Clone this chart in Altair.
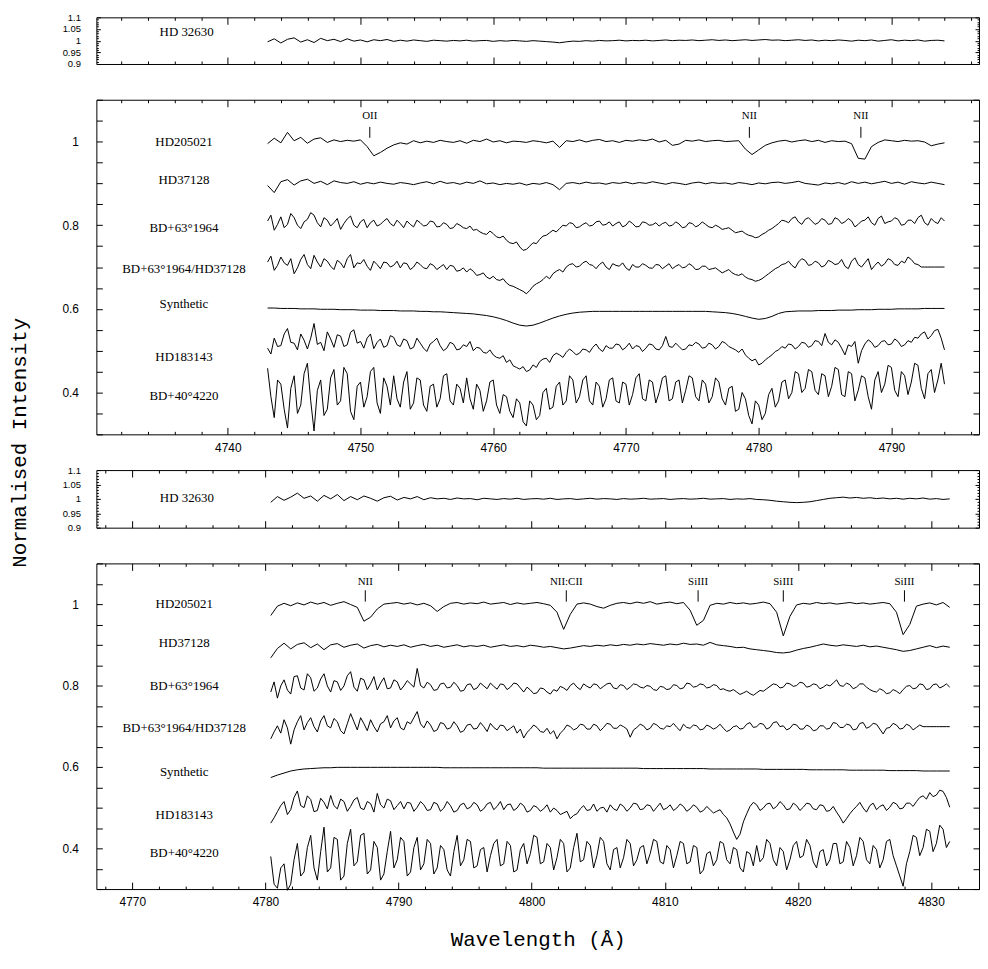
import altair as alt
import pandas as pd

# ---------------- data ----------------
START_UPPER = 4743.0   # wavelength of first sample, upper pair of panels
START_LOWER = 4780.4   # wavelength of first sample, lower pair of panels
# sampling step (Angstrom) of each spectrum, in NAMES order
STEPS = [0.5, 0.5, 0.25, 0.25, 0.5, 0.25, 0.25]

NAMES = ["HD205021", "HD37128", "BD+63°1964", "BD+63°1964/HD37128",
         "Synthetic", "HD183143", "BD+40°4220"]
OFFSETS_UPPER = [1.0, 0.9, 0.8, 0.7, 0.6, 0.5, 0.4]
OFFSETS_LOWER = [1.0, 0.896, 0.794, 0.691, 0.588, 0.485, 0.382]

# flux deviations from the offset, in units of 0.001
U_HD205021 = [-5, 8, -3, 22, 2, 10, -4, 6, 9, -2,
              4, 0, 3, 1, 4, -12, -34, -26, -16, -8,
              -3, -6, 2, -3, 1, -2, 3, 0, -2, 2,
              -4, 3, 0, 6, -1, 2, -3, 1, 0, -2,
              2, 0, -3, 1, -14, 2, 0, 4, -1, 3,
              5, 0, 2, -2, 3, 1, 4, 2, 6, -1,
              3, -9, -6, 3, 1, 4, 0, 2, 3, 0,
              1, 2, -18, -31, -20, -9, -3, 1, 3, -1,
              2, 4, 0, 3, -2, 2, 0, 1, -5, -40,
              -42, -12, -2, 4, 2, 0, 3, 1, 2, -1,
              -10, -6, -3]
U_HD37128 = [-5, -22, 4, 9, -4, 6, 10, 0, 5, -3,
             6, 2, 0, 4, -2, 2, -1, 3, 0, -2,
             2, 0, -3, 1, 4, -1, 5, 0, 2, -2,
             3, 0, 6, -1, 1, -3, 0, -2, 1, -4,
             0, -2, 2, -3, -15, 0, 2, -1, 3, 0,
             1, -2, 2, 0, 3, -1, 2, 0, 4, 1,
             -2, 2, 0, -3, 1, 3, -1, 2, 0, 1,
             -2, 2, 0, -3, 1, -1, 2, 3, 0, 2,
             5, 0, -2, -4, 1, -1, 2, -2, 4, 0,
             3, -1, 2, 5, 0, 3, -2, 4, 1, -1,
             3, 0, -3]
U_BD63 = [10, 24, -12, 2, 20, -6, 2, 28, 18, 0, -8, 8, 14, 30, 24, 6, -4, 18, 12, -2,
          6, 16, -10, 4, 15, 22, 0, -6, 8, 14, -6, 6, 12, -2, 2, 10, 16, 4, -2, 12,
          4, -6, 10, 2, -4, 12, 6, -2, 0, 10, 8, -4, -3, 6, 2, -8, -6, 4, 0, -6,
          -8, -2, -12, -10, -16, -20, -22, -14, -20, -28, -30, -26, -36, -42, -44, -40, -52, -60, -58, -50,
          -42, -44, -34, -26, -24, -18, -12, -16, -8, 0, -2, 6, 4, -6, -4, 2, 6, -2, 0, 8,
          10, 0, 2, 8, -2, 4, 8, -4, 0, 10, 4, -4, -3, 8, 6, 0, 1, 6, -2, 4,
          7, -2, 0, 8, 3, -6, -4, 6, 4, -4, 0, 8, 2, -4, -6, 0, -4, -10, -8, -6,
          -12, -18, -16, -14, -20, -24, -26, -30, -28, -22, -18, -12, -8, -2, 4, 12, 10, 6, 16, 20,
          8, 2, 14, 18, 10, 2, 6, 16, 12, 2, 4, 18, 14, 4, 8, 16, 10, -4, 2, 10,
          12, 20, 6, 0, 16, 22, 4, 8, 10, 18, 14, 0, 2, 12, 12, 4, 18, 24, 6, 0,
          16, 8, 4, 18, 10]
U_RATIO = [12, 26, -8, 4, 24, 10, 4, 20, -16, -2, 18, 30, 6, -4, 28, 12, 0, 20, 14, 2,
           -6, 16, 10, -2, 20, 30, -2, 10, 8, 18, 2, -8, 14, 6, -4, 12, 10, 0, 4, 14,
           -2, 10, 8, -6, 0, 12, 6, -2, -4, 8, 4, -6, 0, 6, -6, 4, 2, -10, -8, -2,
           -12, -4, -10, -20, -18, -14, -24, -28, -22, -30, -32, -28, -38, -44, -46, -50, -54, -58, -64, -56,
           -46, -40, -36, -30, -22, -28, -16, -10, -6, -12, 0, 6, 8, 0, 2, 10, 14, 6, 4, -4,
           6, 12, 0, -6, 8, 4, 2, 10, -2, -8, 6, 0, 0, 8, 4, -2, -3, 6, 5, -4,
           2, 8, -4, 2, 6, -2, 0, 8, 3, -6, -5, 2, 2, -6, -4, -2, -8, -14, -10, -6,
           -14, -18, -20, -16, -24, -28, -30, -34, -32, -28, -22, -16, -10, -4, 0, 6, 8, 14, 4, -2,
           12, 20, 16, 4, 6, 14, 10, 0, 4, 16, 12, 6, 8, 18, 2, -4, 14, 22, 6, 0,
           10, 20, -6, 4, 12, 2, 8, 20, 16, 6, 4, 14, 10, 24, 18, 8, 6, 0, 0, 0,
           0, 0, 0, 0, 0]
U_SYN = [2, 2, 1, 1, 1, 0, 0, 0, -1, -1,
         -1, -2, -2, -2, -3, -3, -3, -4, -4, -4,
         -5, -5, -5, -6, -6, -7, -7, -8, -9, -10,
         -11, -12, -14, -16, -19, -23, -28, -34, -39, -41,
         -39, -34, -28, -22, -17, -13, -10, -8, -7, -6,
         -6, -6, -6, -6, -6, -6, -6, -6, -6, -6,
         -6, -6, -6, -6, -6, -6, -6, -7, -8, -9,
         -11, -14, -18, -22, -25, -23, -18, -11, -7, -6,
         -5, -5, -5, -4, -4, -4, -3, -3, -3, -2,
         -2, -2, -1, -1, -1, 0, 0, 0, 0, 1,
         1, 1, 1]
U_HD183143 = [6, -8, 30, 10, 12, 40, 53, 20, 18, 2, 40, 25, 4, 30, 65, 15, 20, 0, 45, 28,
              8, 38, 35, 10, 14, 44, 50, 18, 22, 6, 30, 40, 5, 20, 28, 8, 12, 36, 32, 14,
              10, 28, 24, 4, 8, 30, 18, 6, -2, 16, 22, 30, 12, 0, 6, 20, 16, 2, 4, 14,
              10, 22, 0, 8, 6, -4, -6, 2, -10, -16, -18, -12, -28, -22, -36, -40, -44, -38, -50, -46,
              -34, -40, -26, -20, -18, -28, -12, -6, -10, -16, -4, 4, -2, -10, -6, 4, 2, -4, 8, 16,
              4, -2, 12, 6, 6, 16, 14, 2, 8, 18, 4, 12, 10, -2, 6, 16, 14, 4, 2, 12,
              34, 10, 8, 18, 10, 2, 4, 14, 12, 20, 16, 6, 8, 18, 14, 4, 10, 22, 18, 10,
              6, 2, -4, 4, -10, -18, -24, -20, -34, -30, -22, -16, -10, -2, 2, 10, 6, 16, 14, 4,
              10, 20, 18, 8, 12, 24, 22, 12, 41, 20, 14, 26, 20, 6, -10, 14, 10, 22, -30, 0,
              16, 26, 20, 8, 12, 22, 24, 14, 16, 28, 22, 10, 14, 24, 20, 32, 30, 40, 45, 28,
              36, 48, 51, 30, 2]
U_BD40 = [58, -10, -60, 30, 20, -40, -85, 10, 40, -50, -30, 45, 70, -20, -92, 5, 30, -55, -40, 35,
          55, -30, -20, 60, 45, -45, -65, 15, 25, -35, -10, 50, 60, -25, -50, 35, 15, -30, 40, -15,
          -35, 25, 50, -40, -25, 35, 30, -30, -45, 15, 20, -35, -15, 40, 45, -20, -30, 20, 10, -25,
          35, -15, -40, 20, 5, -45, -20, 25, 30, -30, -50, -5, -10, -45, -60, -15, -25, -70, -80, -20,
          -30, -65, -55, 0, 10, -40, -35, 15, 25, -30, -20, 40, 30, -25, -10, 30, 40, -20, -30, 25,
          15, -35, -15, 30, 35, -20, -25, 25, 20, -30, -5, 35, 45, -15, -20, 30, 25, -25, 0, 35,
          40, -20, -15, 25, 30, -25, 5, 40, 35, -10, -20, 30, 20, -25, -10, 35, 25, -15, -30, 10,
          15, -45, -40, 0, -15, -55, -75, -20, -30, -65, -50, -5, 10, -35, -20, 25, 30, -15, 0, 50,
          45, 0, 10, 55, 50, 5, -5, 45, 40, -10, 15, 60, 55, -5, -10, 50, 45, -20, 5, 40,
          35, -10, -40, 30, 50, 0, 20, 65, 60, 5, -10, 50, 40, -5, 25, 70, 65, 10, -15, 45,
          55, 0, 30, 70, 20]
U_HD32630 = [-5, 8, -10, 6, 12, -6, 4, -8, 10, 0,
             6, -4, 8, -2, 3, -5, 4, 0, 5, -3,
             2, -2, 3, 0, -3, 2, 0, -2, 1, -1,
             2, -2, 0, 1, -3, 0, -2, 1, -1, -3,
             0, -2, -4, -6, -9, -5, -2, -3, 0, -2,
             1, -1, 0, 2, -1, 1, 0, 2, -1, 1,
             3, 0, 2, 1, 3, 0, 2, 4, 1, 3,
             0, 2, 4, 1, 3, 5, 2, 3, 0, 2,
             4, 1, 3, -1, 2, 0, 3, 1, -2, 2,
             0, 3, -2, 1, 4, -1, 2, 0, 3, -2,
             1, 2, -1]

L_HD205021 = [-28, -5, 2, -4, 3, -2, 5, 0, 4, -3,
              2, 6, -1, -8, -42, -32, -12, 0, 2, 4,
              0, 3, -2, 2, -4, -18, -6, 2, 4, 0,
              3, 1, 5, 0, 2, 4, -1, 3, 0, 2,
              4, 1, -3, -20, -62, -25, 0, 3, 0, -6,
              -10, -3, 2, 4, 1, 5, 2, 6, 0, 3,
              5, 1, 4, -15, -52, -40, -3, 2, 0, 4,
              1, 3, 0, 2, 5, 1, -20, -78, -30, -2,
              2, 0, 4, 1, 3, 0, 2, 4, 1, 3,
              0, 2, 4, 1, -20, -75, -50, -5, 0, 3,
              -2, 4, -8]
L_HD37128 = [-28, -5, 8, -6, 5, 9, -3, 6, -8, 4,
             7, -2, 3, 6, -4, 2, 5, -1, 3, 0,
             4, -2, 2, 5, 0, 3, -2, 1, 4, -1,
             2, 0, 3, -2, 1, 4, 0, 2, -1, 3,
             1, -2, 0, -3, -6, -4, -1, 2, 0, 3,
             1, 4, 2, 5, 3, 6, 4, 7, 5, 3,
             6, 4, 8, 5, 6, 3, 10, 4, 2, 0,
             -3, -2, -6, -8, -10, -12, -15, -16, -14, -9,
             -5, -2, 2, 6, 3, 1, 4, 2, 0, 3,
             -1, 1, -2, -5, -8, -12, -10, -6, -2, 2,
             -3, 1, -2]
L_BD63 = [-10, 15, -25, 5, 20, -5, -15, 28, 30, 0, -5, 35, 25, -8, 0, 22, 35, 5, -10, 18,
          15, -6, 5, 30, 40, 2, -8, 24, 20, -4, 10, 28, -5, 12, 25, -2, 0, 20, 15, -5,
          5, 18, 10, 2, 48, 6, 0, 14, 8, -6, -4, 10, 12, 0, 2, 14, 6, -8, -6, 8,
          10, -4, 0, 12, 5, -2, 12, 4, -3, 10, 8, -4, 2, 12, 10, 0, -10, 2, -5, -14,
          -12, 0, -2, -10, -15, -4, -8, 4, 0, -6, 6, 12, 2, -4, 10, 4, 0, 10, 8, -2,
          4, 10, 12, 0, -2, 8, 6, -4, 2, 10, 8, 2, 0, 6, 4, -4, -6, 4, 2, -4,
          -2, 8, 6, -2, 0, 12, 10, 2, 4, 10, 8, 0, 2, 8, 6, -4, -2, -6, -8, -4,
          -10, -16, -12, -8, -14, -18, -12, -6, -8, -2, 4, 10, 8, 0, 2, 12, 10, 4, 6, 14,
          12, 2, 4, 10, 8, -2, 2, 8, 5, 12, 20, 6, 4, 12, 8, -2, 2, 10, 10, 2,
          -4, -8, -10, -2, -6, -14, -12, -4, -8, -14, -4, 4, 6, -2, 0, 10, 8, -4, -2, 8,
          10, 0, 4, 10, 2]
L_RATIO = [-22, -5, 10, -8, 25, 5, -35, 0, 20, 35, 0, 18, 30, 8, -5, 22, 35, 10, 5, 28,
           20, -2, -10, 15, 40, 20, 0, 30, 15, -2, 25, 8, -5, 15, 20, 35, 5, 22, 30, 5,
           0, 20, 15, 30, 45, 15, 5, 22, 12, -4, 0, 18, 15, 2, 5, 20, 10, -6, -2, 12,
           14, 2, 4, 18, 8, -4, 16, 6, 0, 12, 10, -2, 4, 10, -8, 2, -20, -6, 2, 12,
           6, -4, -6, 4, -10, -2, -22, -8, 0, 12, 8, 0, 4, 14, 12, 2, 2, 14, 10, -2,
           6, 16, 14, 4, 4, 12, 8, 2, -18, 0, 6, 14, 10, 0, 4, 16, 12, 4, 2, 10,
           8, 16, 6, -2, 14, 6, 4, 12, 10, 0, 2, 12, 8, 2, 6, 14, 4, -4, 0, 8,
           10, 2, 4, 14, 18, 6, 8, 16, 14, 2, 6, 18, 20, 8, 10, 0, 4, 14, 12, 2,
           2, 12, 8, -2, 0, 10, 10, 2, 4, 18, 16, 6, 6, 14, 12, 0, 2, 16, 18, 4,
           8, 16, 14, 2, -10, 4, 6, 16, 12, 2, 4, 14, 10, 0, 6, 12, 8, 8, 8, 8,
           8, 8, 8, 8, 8]
L_SYN = [-14, -8, -3, 2, 5, 7, 8, 9, 10, 10,
         11, 11, 11, 11, 11, 11, 11, 11, 11, 11,
         11, 11, 11, 11, 11, 11, 10, 10, 10, 10,
         10, 10, 10, 10, 10, 10, 10, 10, 10, 10,
         10, 9, 9, 9, 9, 9, 9, 9, 9, 9,
         9, 9, 9, 9, 9, 9, 8, 8, 8, 8,
         8, 8, 8, 8, 8, 8, 7, 7, 7, 7,
         7, 7, 7, 7, 6, 6, 6, 6, 6, 6,
         6, 5, 5, 5, 5, 5, 5, 4, 4, 4,
         4, 4, 4, 3, 3, 3, 3, 3, 2, 2,
         2, 2, 2]
L_HD183143 = [-23, -10, 5, 20, 30, -2, 10, 40, 56, 20, 15, 44, 35, 5, 8, 38, 28, 12, 45, 20,
              12, 36, 30, 6, 18, 34, 40, 14, 10, 30, 25, 4, 50, 22, 14, 36, 32, 10, 20, 30,
              12, 28, 26, 6, 16, 30, 22, 8, 10, 28, 24, 6, 14, 30, 20, 4, 8, 22, 26, 12,
              16, 28, 22, 6, 12, 24, 28, 10, 18, 30, 10, 22, 24, 8, 14, 26, 20, 4, 8, 20,
              16, 6, 12, 22, 4, 14, 8, -2, 2, 6, -12, -4, 0, 12, 20, 8, 10, 24, 6, 14,
              16, 4, 22, 12, 8, 24, 18, 6, 14, 26, 24, 10, 12, 22, 20, 6, 16, 26, 10, 14,
              22, 8, 14, 24, 18, 6, 12, 22, 16, 4, 8, 18, 10, 2, 6, 10, -2, -10, -25, -45,
              -63, -50, -20, 0, 18, 28, 22, 8, 14, 24, 26, 12, 18, 30, 22, 10, 12, 26, 20, 8,
              16, 26, 24, 12, 10, 22, 20, 6, 8, 18, 4, -8, -23, -12, 0, 10, 18, 28, 14, 4,
              20, 26, 10, 18, 22, 8, 16, 28, 24, 12, 14, 26, 26, 18, 30, 40, 44, 36, 52, 42,
              46, 58, 55, 40, 16]
L_BD40 = [-2, -70, -80, -30, -20, -85, -70, -10, 30, -50, -40, 20, 50, -30, -60, 10, 70, -40, -30, 45,
          40, -60, -50, 30, 65, -25, -15, 50, 55, -45, -35, 35, 20, -60, -45, 10, 60, -30, -10, 45,
          35, -50, -40, 20, 45, -35, -20, 40, 30, -45, -30, 25, 15, -35, -50, 10, 50, -25, -10, 40,
          35, -30, -25, 15, 20, -40, 0, 30, 40, -25, -20, 35, 25, -40, -35, 15, 30, -20, 5, 50,
          45, -20, -15, 30, 20, -35, -5, 40, 30, -40, -30, 20, 55, -15, -10, 35, 25, -30, 0, 45,
          35, -20, -35, 15, 20, -30, -5, 40, 30, -25, -10, 20, 25, -20, 5, 40, 35, -15, -20, 25,
          15, -30, 0, 35, 30, -20, -15, 25, 20, -45, -35, 5, 10, -25, -10, 35, 30, -10, -20, 20,
          15, -30, -40, 10, 5, -25, 25, -15, -5, 40, 30, -10, -25, 20, 10, -35, -10, 25, 35, -5,
          0, 40, 25, -15, -30, 10, 15, -25, -10, 30, 30, -20, -15, 35, 20, -25, 0, 45, 35, -10,
          -20, 25, 15, -30, -10, 35, 40, 0, -25, -50, -75, -20, 10, 50, 45, 0, 20, 65, 60, 10,
          30, 75, 65, 20, 35]
L_HD32630 = [-12, 8, -5, 6, 20, 2, 10, -8, 12, 0,
             15, -6, 8, -3, 10, 2, -8, 4, 9, -4,
             5, 0, 8, -3, 4, 0, 2, -2, 3, 0,
             1, -3, 2, 0, -2, 1, -1, 2, -2, 0,
             1, -1, 2, -2, 0, 1, -2, 0, 2, -1,
             1, 0, -2, 1, -1, 0, 2, -1, 0, 1,
             -2, 0, 1, -1, 0, 2, -1, 0, 1, -2,
             0, -1, 1, -2, -3, -5, -8, -10, -12, -13,
             -12, -10, -6, -2, 2, 4, 6, 3, 5, 2,
             4, 1, 3, 0, 2, -1, 2, 0, 3, -1,
             1, -2, 0]

UPPER_SERIES = [U_HD205021, U_HD37128, U_BD63, U_RATIO, U_SYN, U_HD183143, U_BD40]
LOWER_SERIES = [L_HD205021, L_HD37128, L_BD63, L_RATIO, L_SYN, L_HD183143, L_BD40]

LABEL_X_UPPER = 4736.7
LABEL_X_LOWER = 4773.9
LABEL_Y_UPPER = [1.0, 0.907, 0.793, 0.695, 0.612, 0.486, 0.392]
LABEL_Y_LOWER = [1.0, 0.904, 0.799, 0.695, 0.587, 0.481, 0.388]
HD32630_LABEL_TOP = (4736.9, 1.037)
HD32630_LABEL_MID = (4774.1, 1.003)

LINES_UPPER = ["OII", "NII", "NII"]
LINES_UPPER_WL = [4750.7, 4779.3, 4787.7]
LINES_LOWER = ["NII", "NII:CII", "SiIII", "SiIII", "SiIII"]
LINES_LOWER_WL = [4787.5, 4802.6, 4812.5, 4818.9, 4828.0]

XDOM_UPPER = [4730.1, 4796.6]
XDOM_LOWER = [4767.3, 4833.6]
X_LABELS_UPPER = [4740, 4750, 4760, 4770, 4780, 4790]
X_LABELS_LOWER = [4770, 4780, 4790, 4800, 4810, 4820, 4830]
X_TICKS_UPPER = list(range(4732, 4797, 2))
X_TICKS_LOWER = list(range(4768, 4834, 2))
Y_LABELS_BIG = [0.4, 0.6, 0.8, 1.0]
Y_TICKS_BIG = [round(0.3 + 0.05 * k, 2) for k in range(17)]
Y_LABELS_SMALL = [0.9, 0.95, 1.0, 1.05, 1.1]
Y_TICKS_SMALL = [round(0.9 + 0.01 * k, 2) for k in range(21)]


def spectra_frame(start, names, offsets, series, steps):
    rows = []
    for name, off, vals, step in zip(names, offsets, series, steps):
        for k, v in enumerate(vals):
            rows.append({"wl": start + step * k, "flux": off + v / 1000.0, "series": name})
    return pd.DataFrame(rows)


W = 889
SERIF = "Liberation Serif"
SANS = "Liberation Sans"
MONO = "Liberation Mono"
TICK_COLOR = "black"

X_MAJOR = "abs(datum.value - 10*round(datum.value/10)) < 0.01"


def panel(spec_df, name_df, ann_lines, xdom, ydom, H, xlabels, xticks,
          ylabels, yticks, ymajor_test, ytick_major, ytick_minor,
          ylab_size, ylab_pad, show_xlabels, ytitle=None, xtitle=None, ann_y=None):
    xs = alt.Scale(domain=xdom, nice=False, zero=False)
    ys = alt.Scale(domain=ydom, nice=False, zero=False)
    xcond = {"condition": {"test": X_MAJOR, "value": 7}, "value": 3}
    ycond = {"condition": {"test": ymajor_test, "value": ytick_major}, "value": ytick_minor}
    tk = dict(labels=False, domain=False, grid=False, ticks=True, tickColor=TICK_COLOR,
              tickWidth=1, title=None)

    xl = dict(orient="bottom", ticks=False, domain=False, grid=False, values=xlabels,
              format="d", labelFont=SANS, labelFontSize=12, labelPadding=8,
              labelColor="black", labelFlush=False, labelOverlap=False)
    if xtitle:
        xl.update(title=xtitle, titleFont=MONO, titleFontSize=21, titleFontWeight="normal",
                  titleColor="black", titleX=W / 2, titleY=51, titleAlign="center",
                  titleBaseline="middle")
    else:
        xl.update(title=None)
    yl = dict(orient="left", ticks=False, domain=False, grid=False, values=ylabels,
              format="~g", labelFont=SANS, labelFontSize=ylab_size, labelPadding=ylab_pad,
              labelColor="black", labelOverlap=False)
    if ytitle:
        yl.update(title=ytitle, titleFont=MONO, titleFontSize=21, titleFontWeight="normal",
                  titleColor="black", titleAngle=270, titleX=-77, titleY=345,
                  titleAlign="center", titleBaseline="middle")
    else:
        yl.update(title=None)

    lines = alt.Chart(spec_df).mark_line(color="black", strokeWidth=1).encode(
        x=alt.X("wl:Q", scale=xs, axis=alt.Axis(**xl) if show_xlabels else None),
        y=alt.Y("flux:Q", scale=ys, axis=alt.Axis(**yl)),
        detail="series:N",
    )
    names = alt.Chart(name_df).mark_text(font=SERIF, fontSize=13, color="black").encode(
        x=alt.X("wl:Q", scale=xs, axis=alt.Axis(orient="top", offset=-H, values=xticks,
                                                  tickSize=xcond, **tk)),
        y=alt.Y("flux:Q", scale=ys, axis=alt.Axis(orient="right", offset=-W, values=yticks,
                                                    tickSize=ycond, **tk)),
        text="label:N",
    )
    ax_top = alt.Axis(orient="bottom", offset=-H, values=xticks, tickSize=xcond, **tk)
    ax_right = alt.Axis(orient="left", offset=-W, values=yticks, tickSize=ycond, **tk)
    layers = [lines, names]
    if ann_lines is not None:
        n = len(ann_lines[0])
        ann_df = pd.DataFrame({"wl": ann_lines[1], "label": ann_lines[0],
                               "y1": [ann_y[0]] * n, "y2": [ann_y[1]] * n,
                               "ty": [ann_y[2]] * n})
        rules = alt.Chart(ann_df).mark_rule(color="black", strokeWidth=1).encode(
            x=alt.X("wl:Q", scale=xs, axis=ax_top),
            y=alt.Y("y1:Q", scale=ys, axis=ax_right),
            y2="y2:Q",
        )
        texts = alt.Chart(ann_df).mark_text(font=SERIF, fontSize=11, color="black").encode(
            x=alt.X("wl:Q", scale=xs, axis=None),
            y=alt.Y("ty:Q", scale=ys, axis=None),
            text="label:N",
        )
        layers += [rules, texts]
    else:
        ghost = alt.Chart(name_df).mark_point(opacity=0).encode(
            x=alt.X("wl:Q", scale=xs, axis=ax_top),
            y=alt.Y("flux:Q", scale=ys, axis=ax_right),
        )
        layers.append(ghost)
    return alt.layer(*layers).resolve_axis(x="independent", y="independent").properties(
        width=W, height=H)


upper_df = spectra_frame(START_UPPER, NAMES, OFFSETS_UPPER, UPPER_SERIES, STEPS)
lower_df = spectra_frame(START_LOWER, NAMES, OFFSETS_LOWER, LOWER_SERIES, STEPS)
top_df = spectra_frame(START_UPPER, ["HD 32630"], [1.0], [U_HD32630], [0.5])
mid_df = spectra_frame(START_LOWER, ["HD 32630"], [1.0], [L_HD32630], [0.5])

upper_names = pd.DataFrame({"wl": [LABEL_X_UPPER] * 7, "flux": LABEL_Y_UPPER, "label": NAMES})
lower_names = pd.DataFrame({"wl": [LABEL_X_LOWER] * 7, "flux": LABEL_Y_LOWER, "label": NAMES})
top_names = pd.DataFrame({"wl": [HD32630_LABEL_TOP[0]], "flux": [HD32630_LABEL_TOP[1]],
                          "label": ["HD 32630"]})
mid_names = pd.DataFrame({"wl": [HD32630_LABEL_MID[0]], "flux": [HD32630_LABEL_MID[1]],
                          "label": ["HD 32630"]})

SMALL_MAJOR = "abs(datum.value*20 - round(datum.value*20)) < 0.001"
BIG_MAJOR = "abs(datum.value*5 - round(datum.value*5)) < 0.001"

p1 = panel(top_df, top_names, None, XDOM_UPPER, [0.9, 1.1], 47, X_LABELS_UPPER, X_TICKS_UPPER,
           Y_LABELS_SMALL, Y_TICKS_SMALL, SMALL_MAJOR, 4, 2, 9.5, 16, False)
p2 = panel(upper_df, upper_names, (LINES_UPPER, LINES_UPPER_WL), XDOM_UPPER, [0.3, 1.1], 337,
           X_LABELS_UPPER, X_TICKS_UPPER, Y_LABELS_BIG, Y_TICKS_BIG, BIG_MAJOR, 6, 6, 12, 18,
           True, ytitle="Normalised Intensity", ann_y=(1.009, 1.035, 1.061))
p3 = panel(mid_df, mid_names, None, XDOM_LOWER, [0.9, 1.1], 58, X_LABELS_LOWER, X_TICKS_LOWER,
           Y_LABELS_SMALL, Y_TICKS_SMALL, SMALL_MAJOR, 4, 2, 9.5, 16, False)
p4 = panel(lower_df, lower_names, (LINES_LOWER, LINES_LOWER_WL), XDOM_LOWER, [0.3, 1.1], 328,
           X_LABELS_LOWER, X_TICKS_LOWER, Y_LABELS_BIG, Y_TICKS_BIG, BIG_MAJOR, 6, 6, 12, 18,
           True, xtitle="Wavelength (Å)", ann_y=(1.006, 1.034, 1.055))

chart = alt.vconcat(p1, p2, p3, p4, spacing=36, bounds="flush").properties(
    padding={"left": 0, "top": 0, "right": 0, "bottom": 0},
    background="white",
).configure_view(stroke="black", strokeWidth=1)

chart.save("out.html", embed_options={"renderer": "svg", "actions": False})
